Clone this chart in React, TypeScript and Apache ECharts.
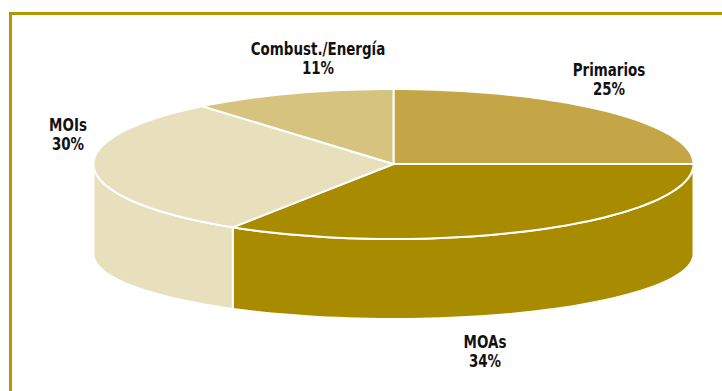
import React, { useEffect, useRef } from "react";
import * as echarts from "echarts";

const categories = ["Primarios", "MOAs", "MOIs", "Combust./Energía"];
const shares = [25, 34, 30, 11];
const topColors = ["#c4a646", "#a98b00", "#e8dfbd", "#d5c37f"];
const sideColors = ["#b09020", "#a98b00", "#e8dfbd", "#d5c37f"];
const labelPos = [
  [609, 80],
  [485, 352],
  [68, 135],
  [318, 59],
];

const CX = 393.5;
const CY = 164;
const RX = 300;
const RY = 75;
const BCY = 254;
const BRY = 65;

function arcPts(t0: number, t1: number, cy: number, ry: number, n: number) {
  const pts: number[][] = [];
  for (let i = 0; i <= n; i++) {
    const t = ((t0 + ((t1 - t0) * i) / n) * Math.PI) / 180;
    pts.push([CX + RX * Math.cos(t), cy + ry * Math.sin(t)]);
  }
  return pts;
}

export default function App() {
  const ref = useRef<HTMLDivElement>(null);
  useEffect(() => {
    document.body.style.margin = "0";
    const chart = echarts.init(ref.current!, undefined, { renderer: "svg" });
    const total = shares.reduce((a, b) => a + b, 0);
    const cum: number[] = [];
    let acc = 0;
    shares.forEach((v) => {
      cum.push(acc);
      acc += v;
    });
    const angleOf = (f: number) => -90 + (f / total) * 360;

    const renderSide = (params: any) => {
      const i = params.dataIndex;
      const a0 = angleOf(cum[i]);
      const a1 = angleOf(cum[i] + shares[i]);
      const children: any[] = [];
      [[0, 180], [360, 540]].forEach(([lo, hi]) => {
        const s = Math.max(a0, lo);
        const e = Math.min(a1, hi);
        if (e > s) {
          const n = Math.max(4, Math.ceil((e - s) / 2));
          const top = arcPts(s, e, CY, RY, n);
          const bot = arcPts(s, e, BCY, BRY, n).reverse();
          children.push({
            type: "polygon",
            shape: { points: top.concat(bot) },
            style: { fill: sideColors[i], stroke: "#ffffff", lineWidth: 2 },
          });
        }
      });
      return { type: "group", children };
    };

    const renderTop = (params: any) => {
      const i = params.dataIndex;
      const a0 = angleOf(cum[i]);
      const a1 = angleOf(cum[i] + shares[i]);
      const n = Math.max(4, Math.ceil((a1 - a0) / 2));
      const pts = [[CX, CY]].concat(arcPts(a0, a1, CY, RY, n));
      return {
        type: "polygon",
        shape: { points: pts },
        style: { fill: topColors[i], stroke: "#ffffff", lineWidth: 2 },
      };
    };

    const labelFont = '"DejaVu Sans Condensed", "DejaVu Sans", sans-serif';

    chart.setOption({
      animation: false,
      graphic: [
        {
          type: "rect",
          shape: { x: 10.5, y: 13.5, width: 900, height: 600 },
          style: { fill: "none", stroke: "#b69606", lineWidth: 3 },
          silent: true,
        },
        ...categories.map((c, i) => ({
          type: "text",
          x: labelPos[i][0],
          y: labelPos[i][1],
          scaleX: 0.83,
          style: {
            text: `${c}\n${shares[i]}%`,
            fill: "#111111",
            font: `bold 18px ${labelFont}`,
            lineHeight: 19,
            align: "center",
            verticalAlign: "middle",
          },
        })),
      ],
      series: [
        {
          type: "custom",
          coordinateSystem: "none",
          renderItem: renderSide,
          data: shares,
          z: 1,
          silent: true,
        },
        {
          type: "custom",
          coordinateSystem: "none",
          renderItem: renderTop,
          data: shares,
          z: 2,
          silent: true,
        },
      ],
    });
    return () => chart.dispose();
  }, []);
  return <div ref={ref} style={{ width: 722, height: 391 }} />;
}
